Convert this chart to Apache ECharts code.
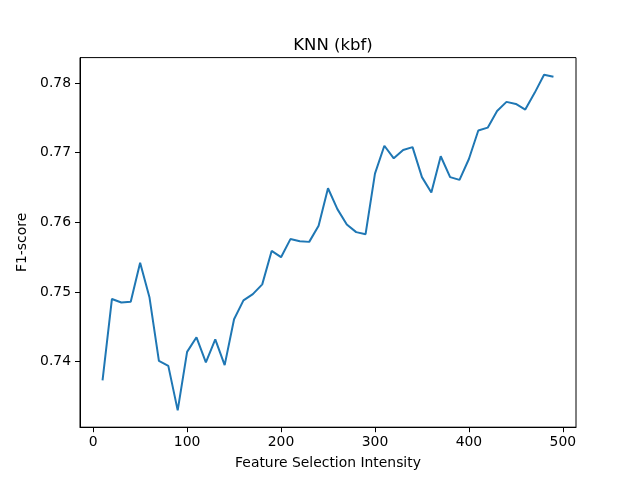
<!DOCTYPE html>
<html>
<head>
<meta charset="utf-8">
<script src="https://cdn.jsdelivr.net/npm/echarts@6/dist/echarts.min.js"></script>
<style>
  html, body { margin: 0; padding: 0; background: #fff; }
  #chart { width: 640px; height: 480px; }
</style>
</head>
<body>
<div id="chart"></div>
<script>
// feature selection intensity (x) and F1-score (y)
var intensity = [10, 20, 30, 40, 50, 60, 70, 80, 90, 100,
  110, 120, 130, 140, 150, 160, 170, 180, 190, 200,
  210, 220, 230, 240, 250, 260, 270, 280, 290, 300,
  310, 320, 330, 340, 350, 360, 370, 380, 390, 400,
  410, 420, 430, 440, 450, 460, 470, 480, 490]
var f1 = [0.7373, 0.7490, 0.7485, 0.7486, 0.7542, 0.7492, 0.7401, 0.7394, 0.7330, 0.7414,
  0.7435, 0.7399, 0.7432, 0.7395, 0.7461, 0.7488, 0.7497, 0.7511, 0.7559, 0.7550,
  0.7576, 0.7573, 0.7572, 0.7595, 0.7649, 0.7619, 0.7597, 0.7586, 0.7583, 0.7670,
  0.7710, 0.7692, 0.7704, 0.7708, 0.7665, 0.7643, 0.7695, 0.7665, 0.7661, 0.7691,
  0.7732, 0.7736, 0.7760, 0.7773, 0.7770, 0.7762, 0.7786, 0.7812, 0.7809]
var xTicks = [0, 100, 200, 300, 400, 500]
var yTicks = [0.74, 0.75, 0.76, 0.77, 0.78]

var font = 'DejaVu Sans'
var chart = echarts.init(document.getElementById('chart'))

chart.setOption({
  animation: false,
  title: {
    text: 'KNN (kbf)',
    left: 328,
    textAlign: 'center',
    top: 32,
    textStyle: { fontFamily: font, fontSize: 16.5, fontWeight: 'normal', color: '#000' }
  },
  grid: {
    left: 80, right: 64, top: 57.6, bottom: 52.8,
    show: true, borderColor: '#000', borderWidth: 1, backgroundColor: 'transparent'
  },
  xAxis: {
    type: 'value',
    min: -14, max: 514,
    name: 'Feature Selection Intensity',
    nameLocation: 'middle',
    nameGap: 29,
    nameTextStyle: { fontFamily: font, fontSize: 13.9, color: '#000' },
    axisLine: { show: true, onZero: false, lineStyle: { color: '#000', width: 1 } },
    axisTick: { show: true, inside: false, length: 5, customValues: xTicks, lineStyle: { color: '#000' } },
    axisLabel: { customValues: xTicks, margin: 8, fontFamily: font, fontSize: 13.9, color: '#000' },
    splitLine: { show: false }
  },
  yAxis: {
    type: 'value',
    min: 0.73059, max: 0.78366,
    name: 'F1-score',
    nameLocation: 'middle',
    nameGap: 48,
    nameTextStyle: { fontFamily: font, fontSize: 13.9, color: '#000' },
    axisLine: { show: true, onZero: false, lineStyle: { color: '#000', width: 1 } },
    axisTick: { show: true, inside: false, length: 5, customValues: yTicks, lineStyle: { color: '#000' } },
    axisLabel: {
      customValues: yTicks, margin: 9, fontFamily: font, fontSize: 13.9, color: '#000',
      formatter: function (v) { return v.toFixed(2) }
    },
    splitLine: { show: false }
  },
  series: [{
    type: 'line',
    data: intensity.map(function (x, i) { return [x, f1[i]] }),
    showSymbol: false,
    lineStyle: { color: '#1f77b4', width: 2 },
    itemStyle: { color: '#1f77b4' }
  }]
})
</script>
</body>
</html>
